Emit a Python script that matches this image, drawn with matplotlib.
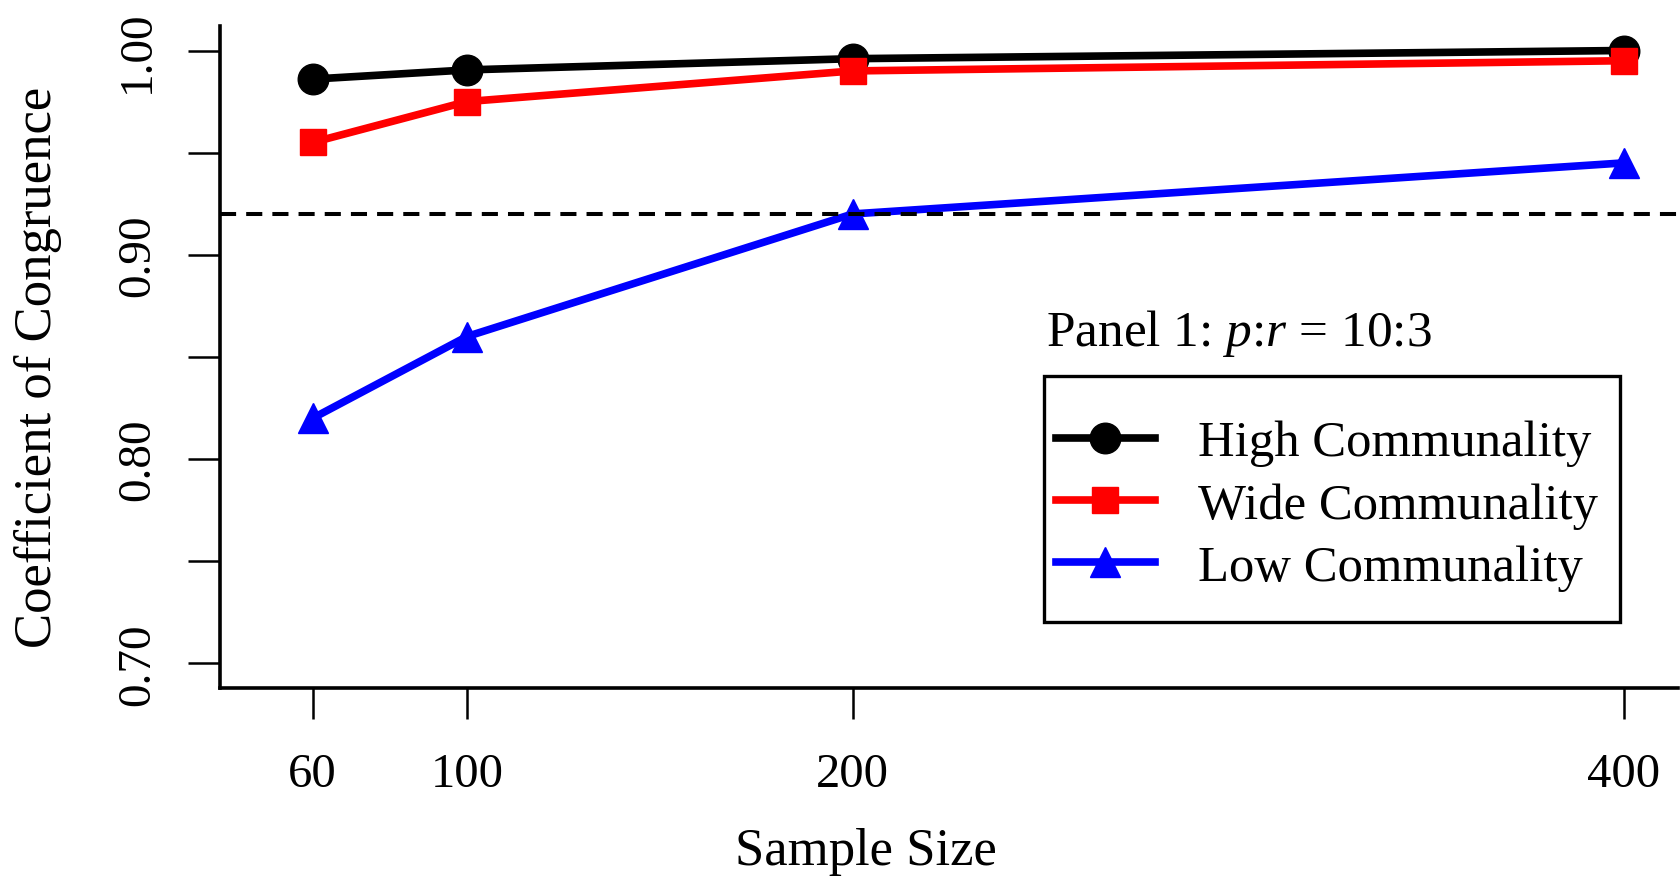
import matplotlib

matplotlib.use("Agg")
import matplotlib.pyplot as plt
from matplotlib.patches import Rectangle

sample_sizes = [60, 100, 200, 400]
high_communality = [0.986, 0.9905, 0.996, 1.000]
wide_communality = [0.955, 0.975, 0.990, 0.995]
low_communality = [0.820, 0.860, 0.920, 0.945]
threshold = 0.92

y_ticks = [0.70, 0.75, 0.80, 0.85, 0.90, 0.95, 1.00]
y_tick_labels = ["0.70", "", "0.80", "", "0.90", "", "1.00"]

plt.rcParams["font.family"] = ["Liberation Serif", "DejaVu Serif"]
plt.rcParams["mathtext.fontset"] = "custom"
plt.rcParams["mathtext.rm"] = "Liberation Serif"
plt.rcParams["mathtext.it"] = "Liberation Serif:italic"

fig = plt.figure(figsize=(16.81, 8.79), dpi=100)
ax = fig.add_axes([0.1309, 0.2162, 0.8673, 0.7531])


def to_axes(px, py):
    # pixel position in the figure -> axes fraction
    return (px - 220) / 1458, 1 - (py - 27) / 662


line_width = 5.5

ax.plot(
    sample_sizes,
    high_communality,
    color="black",
    linewidth=line_width,
    marker="o",
    markersize=22,
    label="High Communality",
)
ax.plot(
    sample_sizes,
    wide_communality,
    color="#ff0000",
    linewidth=line_width,
    marker="s",
    markersize=18.5,
    label="Wide Communality",
)
ax.plot(
    sample_sizes,
    low_communality,
    color="#0000ff",
    linewidth=line_width,
    marker="^",
    markersize=22,
    label="Low Communality",
)
ax.axhline(
    threshold,
    color="black",
    linewidth=2.9,
    linestyle=(0, (4, 2.5)),
    zorder=5,
)

# R-style limits: data range plus 4 % on each side
ax.set_xlim(50 - 14, 400 + 14)
ax.set_ylim(0.70 - 0.012, 1.00 + 0.012)

ax.set_xticks(sample_sizes)
ax.set_xticklabels([str(s) for s in sample_sizes])
ax.set_yticks(y_ticks)
ax.set_yticklabels(y_tick_labels, rotation=90, va="center")

ax.tick_params(axis="x", length=22, width=1.8, pad=24, labelsize=35)
ax.tick_params(axis="y", length=23, width=1.8, pad=21, labelsize=34)

for side in ["top", "right"]:
    ax.spines[side].set_visible(False)
for side in ["left", "bottom"]:
    ax.spines[side].set_linewidth(2.6)

fig.text(866 / 1681, 1 - 852 / 879, "Sample Size", fontsize=38, ha="center", va="center")
fig.text(
    38 / 1681,
    1 - 367 / 879,
    "Coefficient of Congruence",
    fontsize=38,
    rotation=90,
    ha="center",
    va="center",
)

ax.text(
    *to_axes(1046, 334),
    r"Panel 1: $p$:$r$ = 10:3",
    transform=ax.transAxes,
    fontsize=37,
    ha="left",
    va="center",
)

legend = ax.legend(
    loc="upper left",
    bbox_to_anchor=to_axes(1056, 421),
    fontsize=36.5,
    numpoints=1,
    handlelength=1.95,
    handletextpad=0.85,
    labelspacing=0.31,
    borderpad=0,
    borderaxespad=0,
    frameon=False,
)

# legend box drawn R-style, with wide padding
box_x0, box_y0 = to_axes(1044, 623)
box_x1, box_y1 = to_axes(1620, 377)
ax.add_patch(
    Rectangle(
        (box_x0, box_y0),
        box_x1 - box_x0,
        box_y1 - box_y0,
        transform=ax.transAxes,
        facecolor="none",
        edgecolor="black",
        linewidth=2.4,
        zorder=6,
        clip_on=False,
    )
)

fig.savefig("out.png", dpi=100)
